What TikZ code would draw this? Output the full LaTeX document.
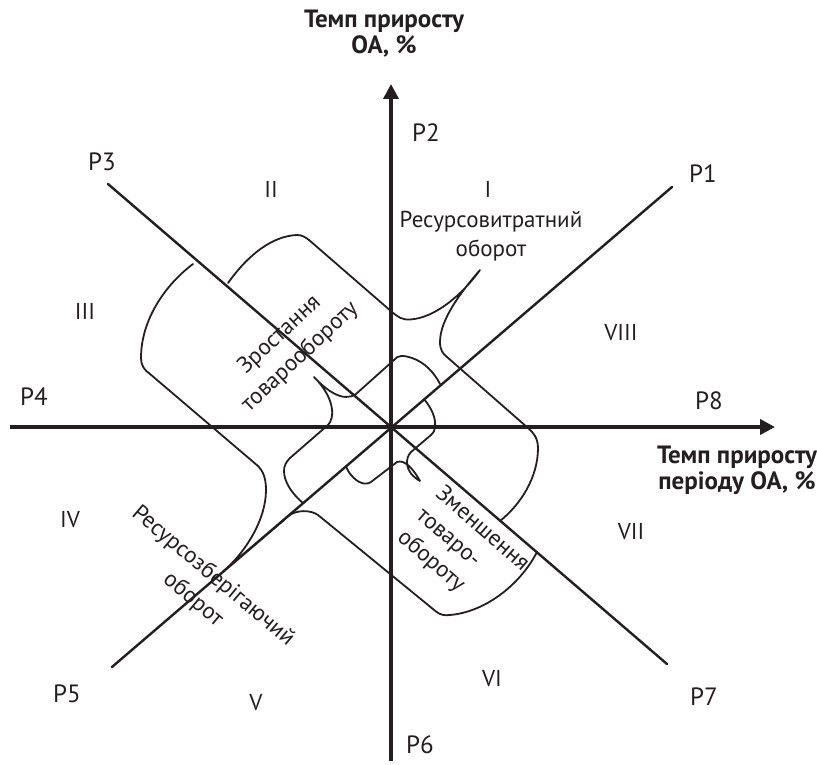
\documentclass[tikz,border=0pt]{standalone}
\usepackage{fontspec}
\setmainfont{PT Sans}
\usetikzlibrary{arrows.meta}
\definecolor{ink}{RGB}{35,31,32}
\begin{document}
\begin{tikzpicture}[x=1pt,y=-1pt,line join=round,line cap=round,
  axis/.style={line width=3.6pt,draw=ink},
  diag/.style={line width=2.4pt,draw=ink},
  blob/.style={line width=1.8pt,draw=ink},
  lbl/.style={font=\fontsize{23}{29}\selectfont,text=ink,inner sep=0pt},
  plbl/.style={font=\fontsize{25}{30}\selectfont,text=ink,inner sep=0pt},
  ttl/.style={font=\bfseries\fontsize{25}{26}\selectfont,text=ink,align=center,inner sep=0pt}]
\useasboundingbox (0,0) rectangle (817,765);
% coordinates
\coordinate (O) at (391,427);
\coordinate (xL) at (10,427);
\coordinate (xR) at (775,427);
\coordinate (yB) at (391,761);
\coordinate (yT) at (391,84);
\coordinate (d1) at (672,187);
\coordinate (d3) at (108,184);
\coordinate (d5) at (112,667);
\coordinate (d7) at (667,664);
% diagonals
\draw[diag] (d3) -- (d7);
\draw[diag] (d5) -- (d1);
% outer band (along P3-P7)
\draw[blob] (228,283) .. controls (248,255) and (272,236) .. (297,235)
  .. controls (302,235) and (305,237) .. (309,240) -- (392,312)
  .. controls (398,317) and (402,320) .. (410,319.5)
  .. controls (435,318) and (462,295) .. (480,270)
  .. controls (460,293) and (440,320) .. (440,342)
  .. controls (440,350) and (443,354) .. (447,357) -- (528,428)
  .. controls (533,432) and (538,438) .. (538,448)
  .. controls (538,478) and (520,505) .. (500,521);
\draw[blob] (537,552) .. controls (520,585) and (485,612) .. (450,615)
  .. controls (445,615.5) and (441,615.5) .. (436,611.5) -- (318,515)
  .. controls (311,510) and (296,509) .. (287,517)
  .. controls (285,519) and (283,521) .. (281,522.5) -- (223,571.5)
  .. controls (245,553) and (266,520) .. (266,490)
  .. controls (266,478) and (263,471) .. (258,466) -- (150,374)
  .. controls (144,370) and (141,365) .. (141,358)
  .. controls (141,320) and (165,285) .. (193,264);
% inner band (along P1-P5)
\draw[blob] (303,503) .. controls (291,493) and (284,481) .. (284,471)
  .. controls (284,466) and (286,462) .. (290,458) -- (328,425)
  .. controls (335,418) and (335,398) .. (314,377)
  .. controls (326,390) and (343,403) .. (356,394) -- (394,360)
  .. controls (398,355) and (403,355) .. (412,358)
  .. controls (424,362) and (434,372) .. (440,384);
\draw[blob] (424,399) .. controls (432,409) and (436,418) .. (435,427)
  .. controls (435,430) and (434,432) .. (431,435) -- (411,452)
  .. controls (405,458) and (404,472) .. (420,481)
  .. controls (414,470) and (405,459) .. (397,462) -- (371,482)
  .. controls (365,486) and (357,482) .. (352,476)
  .. controls (349,473) and (347,469) .. (346,466);
% axes
\draw[axis,line cap=butt,-{Triangle[length=15pt,width=15pt]}] (xL) -- (xR);
\draw[axis,line cap=butt,-{Triangle[length=15pt,width=15pt]}] (yB) -- (yT);
% axis titles
\node[ttl] (ty) at (384,34) {Темп приросту\\ОА, \%};
\node[ttl] (tx) at (737,470) {Темп приросту\\періоду ОА, \%};
% ray labels
\node[plbl] (p1) at (703,174) {P1};
\node[plbl] (p2) at (426,133) {P2};
\node[plbl] (p3) at (102,162) {P3};
\node[plbl] (p4) at (34,397) {P4};
\node[plbl] (p5) at (67,694) {P5};
\node[plbl] (p6) at (420,745) {P6};
\node[plbl] (p7) at (704,697) {P7};
\node[plbl] (p8) at (709,401) {P8};
% sector numbers
\node[lbl] (r1) at (488,189) {I};
\node[lbl] (r2) at (271,189) {II};
\node[lbl] (r3) at (85,311) {III};
\node[lbl] (r4) at (70,520) {IV};
\node[lbl] (r5) at (256,703) {V};
\node[lbl] (r6) at (492,679) {VI};
\node[lbl] (r7) at (631,532) {VII};
\node[lbl] (r8) at (621,333) {VIII};
% region texts
\node[lbl,align=center] (t1) at (491,236) {Ресурсовитратний\\оборот};
\node[lbl,align=center,rotate=43,font=\fontsize{23}{30}\selectfont] (t2) at (290,346) {Зростання\\товарообороту};
\node[lbl,align=left,rotate=-41] (t3) at (463,551) {Зменшення\\товаро-\\обороту};
\node[lbl,align=center,rotate=-40,font=\fontsize{23}{31}\selectfont] (t4) at (203,588) {Ресурсозберігаючий\\оборот};
\end{tikzpicture}
\end{document}
